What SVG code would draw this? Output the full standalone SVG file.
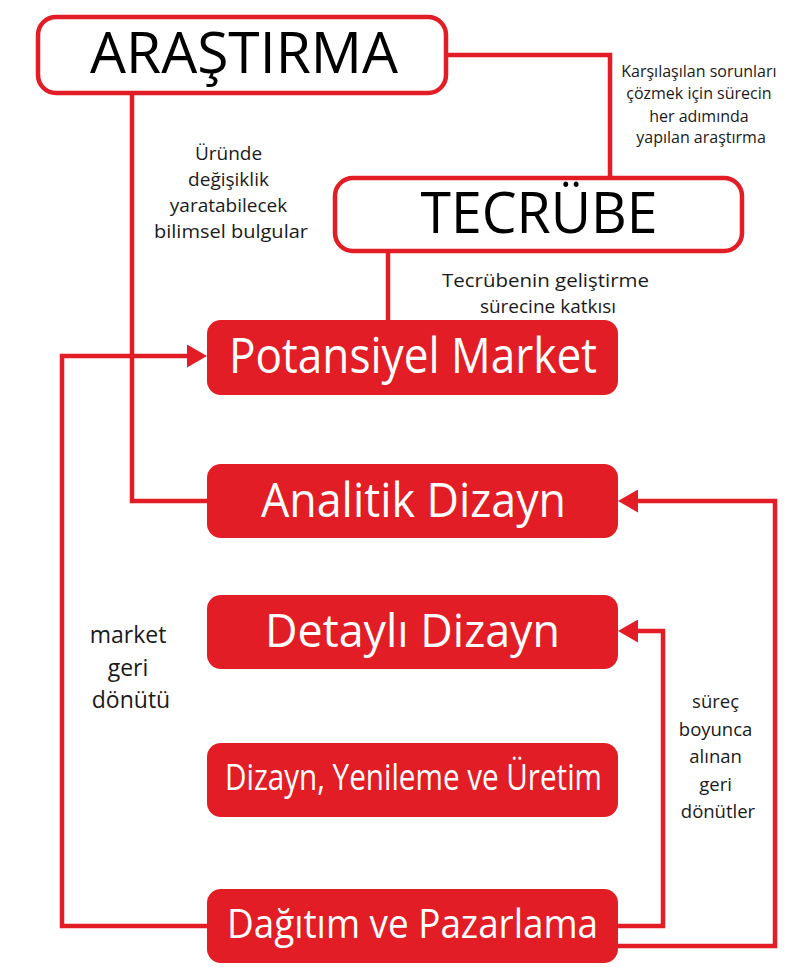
<svg xmlns="http://www.w3.org/2000/svg" width="800" height="980" viewBox="0 0 800 980">
  <style>
    .box-w { fill: #ffffff; stroke: #e21d26; stroke-width: 4.5; }
    .box-r { fill: #e21d26; stroke: none; }
    .big { font-family: "Open Sans", "Liberation Sans", sans-serif; font-size: 57px; fill: #000000; text-anchor: middle; }
    .lbl { font-family: "Open Sans", "Liberation Sans", sans-serif; fill: #ffffff; text-anchor: middle; }
    .note { font-family: "Open Sans", "Liberation Sans", sans-serif; fill: #1a1a1a; text-anchor: middle; }
    .conn { fill: none; stroke: #e21d26; stroke-width: 4.5; stroke-linejoin: miter; }
  </style>
  <defs>
    <marker id="arrow" viewBox="0 0 20 23" refX="15" refY="11.5" markerWidth="20" markerHeight="23" markerUnits="userSpaceOnUse" orient="auto">
      <path d="M0,0 L20,11.5 L0,23 z" fill="#e21d26"/>
    </marker>
  </defs>
  <rect width="800" height="980" fill="#ffffff"/>

  <g id="connectors">
    <path class="conn" d="M446,55 H610 V179"/>
    <path class="conn" d="M388,251 V320"/>
    <path class="conn" d="M132,93 V501 H207"/>
    <path class="conn" d="M207,926 H62 V356 H202" marker-end="url(#arrow)"/>
    <path class="conn" d="M618,926 H663 V631 H623" marker-end="url(#arrow)"/>
    <path class="conn" d="M618,946 H775 V501 H623" marker-end="url(#arrow)"/>
  </g>

  <g id="arastirma">
    <rect class="box-w" x="38" y="17" width="408" height="76" rx="18"/>
    <text class="big" x="244" y="73" textLength="308" lengthAdjust="spacingAndGlyphs">ARAŞTIRMA</text>
  </g>

  <g id="tecrube">
    <rect class="box-w" x="335" y="178" width="407" height="73" rx="18"/>
    <text class="big" x="539" y="233" textLength="237" lengthAdjust="spacingAndGlyphs">TECRÜBE</text>
  </g>

  <g id="potansiyel-market">
    <rect class="box-r" x="207" y="320" width="411" height="75" rx="14"/>
    <text class="lbl" x="413" y="373" font-size="49" textLength="368" lengthAdjust="spacingAndGlyphs">Potansiyel Market</text>
  </g>

  <g id="analitik-dizayn">
    <rect class="box-r" x="207" y="464" width="411" height="74" rx="14"/>
    <text class="lbl" x="413.5" y="517" font-size="48" textLength="305" lengthAdjust="spacingAndGlyphs">Analitik Dizayn</text>
  </g>

  <g id="detayli-dizayn">
    <rect class="box-r" x="207" y="595" width="411" height="74" rx="14"/>
    <text class="lbl" x="412.5" y="647" font-size="45" textLength="295" lengthAdjust="spacingAndGlyphs">Detaylı Dizayn</text>
  </g>

  <g id="dizayn-yenileme-uretim">
    <rect class="box-r" x="207" y="743" width="411" height="74" rx="14"/>
    <text class="lbl" x="413.5" y="790" font-size="37" textLength="377" lengthAdjust="spacingAndGlyphs">Dizayn, Yenileme ve Üretim</text>
  </g>

  <g id="dagitim-pazarlama">
    <rect class="box-r" x="207" y="889" width="411" height="74" rx="14"/>
    <text class="lbl" x="412.5" y="938" font-size="40" textLength="371" lengthAdjust="spacingAndGlyphs">Dağıtım ve Pazarlama</text>
  </g>

  <g id="labels">
    <text class="note" font-size="19">
      <tspan x="231" y="160">Üründe</tspan>
      <tspan x="231" y="186">değişiklik</tspan>
      <tspan x="231" y="212">yaratabilecek</tspan>
      <tspan x="231" y="238" textLength="154" lengthAdjust="spacingAndGlyphs">bilimsel bulgular</tspan>
    </text>
    <text class="note" font-size="16">
      <tspan x="701" y="77">Karşılaşılan sorunları</tspan>
      <tspan x="701" y="99">çözmek için sürecin</tspan>
      <tspan x="701" y="122">her adımında</tspan>
      <tspan x="701" y="143">yapılan araştırma</tspan>
    </text>
    <text class="note" font-size="19">
      <tspan x="548" y="287" textLength="207" lengthAdjust="spacingAndGlyphs">Tecrübenin geliştirme</tspan>
      <tspan x="548" y="313">sürecine katkısı</tspan>
    </text>
    <text class="note" font-size="23">
      <tspan x="131" y="643">market</tspan>
      <tspan x="131" y="676">geri</tspan>
      <tspan x="131" y="708">dönütü</tspan>
    </text>
    <text class="note" font-size="18.5">
      <tspan x="718" y="708">süreç</tspan>
      <tspan x="718" y="735.5">boyunca</tspan>
      <tspan x="718" y="763">alınan</tspan>
      <tspan x="718" y="790.5">geri</tspan>
      <tspan x="718" y="818">dönütler</tspan>
    </text>
  </g>
</svg>
